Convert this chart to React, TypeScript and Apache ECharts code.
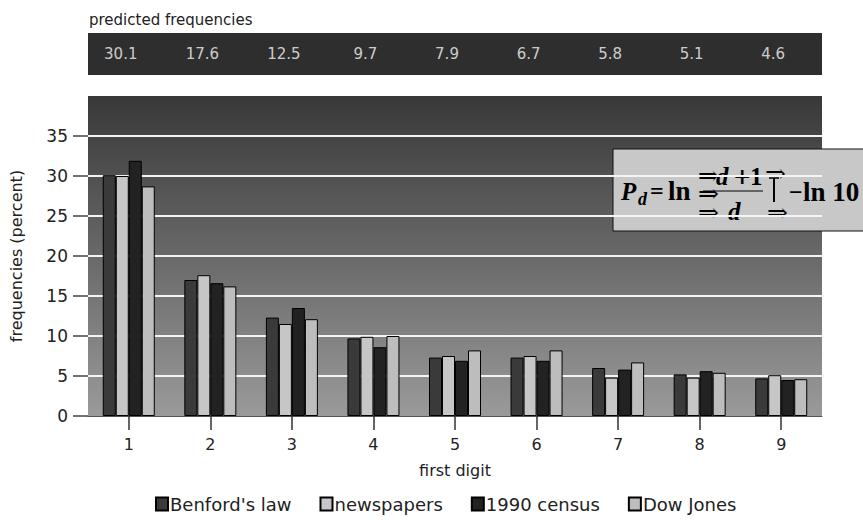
import React, { useEffect, useRef } from "react";
import * as echarts from "echarts";

const digits = ["1", "2", "3", "4", "5", "6", "7", "8", "9"];
const predicted = ["30.1", "17.6", "12.5", "9.7", "7.9", "6.7", "5.8", "5.1", "4.6"];
const benford = [30.1, 17.0, 12.3, 9.7, 7.3, 7.3, 6.0, 5.2, 4.7];
const newspapers = [30.0, 17.6, 11.5, 9.9, 7.5, 7.5, 4.8, 4.8, 5.1];
const census = [31.9, 16.6, 13.5, 8.6, 6.9, 6.9, 5.8, 5.6, 4.5];
const dowJones = [28.7, 16.2, 12.1, 10.0, 8.2, 8.2, 6.7, 5.4, 4.6];
const yTicks = [0, 5, 10, 15, 20, 25, 30, 35];

const SANS = '"DejaVu Sans", sans-serif';
const SERIF = '"Liberation Serif", "DejaVu Serif", serif';

export default function App() {
  const ref = useRef<HTMLDivElement>(null);
  useEffect(() => {
    if (!ref.current) return;
    const chart = echarts.init(ref.current, undefined, { renderer: "svg" });
    const barSeries = (name: string, data: number[], color: string) => ({
      name,
      type: "bar",
      xAxisIndex: 0,
      yAxisIndex: 0,
      data,
      barWidth: 13,
      barGap: "0%",
      itemStyle: { color, borderColor: "#000", borderWidth: 1 },
    });
    const txt = (
      text: string,
      x: number,
      y: number,
      size: number,
      opts: { italic?: boolean; bold?: boolean; family?: string } = {}
    ) => ({
      type: "text",
      style: {
        text,
        x,
        y,
        fontSize: size,
        fontFamily: opts.family || SERIF,
        fontWeight: opts.bold === false ? "normal" : "bold",
        fontStyle: opts.italic ? "italic" : "normal",
        fill: "#000",
        verticalAlign: "middle",
      },
    });
    const arrow = (x: number, y: number) =>
      txt("⇒", x, y, 25, { bold: false, family: '"DejaVu Serif", "DejaVu Sans", serif' });
    chart.setOption({
      animation: false,
      backgroundColor: "#fff",
      textStyle: { fontFamily: SANS },
      title: {
        text: "predicted frequencies",
        left: 84,
        top: 7,
        textStyle: { fontFamily: SANS, fontSize: 15, fontWeight: "normal", color: "#222" },
      },
      grid: [
        {
          left: 88,
          right: 41,
          top: 96,
          bottom: 104,
          outerBoundsMode: "none",
          containLabel: false,
          show: true,
          borderWidth: 0,
          backgroundColor: new echarts.graphic.LinearGradient(0, 0, 0, 1, [
            { offset: 0, color: "#383838" },
            { offset: 1, color: "#9a9a9a" },
          ]),
        },
        {
          left: 88,
          right: 41,
          top: 33,
          height: 42,
          outerBoundsMode: "none",
          containLabel: false,
          show: true,
          borderWidth: 0,
          backgroundColor: "#2e2e2e",
        },
      ],
      xAxis: [
        {
          type: "category",
          gridIndex: 0,
          data: digits,
          name: "first digit",
          nameLocation: "middle",
          nameGap: 46,
          nameTextStyle: { fontFamily: SANS, fontSize: 16, color: "#222" },
          axisLine: { show: true, lineStyle: { color: "#555", width: 1 } },
          axisTick: { show: true, alignWithLabel: true, length: 14, lineStyle: { color: "#333", width: 1.5 } },
          axisLabel: { margin: 20, fontFamily: SANS, fontSize: 16, color: "#222" },
        },
        {
          type: "category",
          gridIndex: 1,
          data: digits,
          show: false,
        },
      ],
      yAxis: [
        {
          type: "value",
          gridIndex: 0,
          min: 0,
          max: 40,
          interval: 5,
          name: "frequencies (percent)",
          nameLocation: "middle",
          nameGap: 64,
          nameTextStyle: { fontFamily: SANS, fontSize: 16, color: "#222" },
          axisLine: { show: false },
          axisTick: { show: true, length: 15, customValues: yTicks, lineStyle: { color: "#444", width: 1.5 } },
          axisLabel: {
            margin: 20,
            fontFamily: SANS,
            fontSize: 17,
            color: "#222",
            customValues: yTicks,
          },
          splitLine: {
            show: true,
            lineStyle: {
              width: 2,
              color: [
                "rgba(0,0,0,0)",
                "#f4f4f4",
                "#f4f4f4",
                "#f4f4f4",
                "#f4f4f4",
                "#f4f4f4",
                "#f4f4f4",
                "#f4f4f4",
              ],
            },
          },
        },
        {
          type: "value",
          gridIndex: 1,
          min: 0,
          max: 1,
          show: false,
        },
      ],
      legend: {
        left: 150,
        top: 490,
        icon: "rect",
        itemWidth: 12,
        itemHeight: 13,
        itemGap: 28,
        textStyle: { fontFamily: SANS, fontSize: 18, color: "#222", padding: [0, 0, 0, -3] },
        data: ["Benford's law", "newspapers", "1990 census", "Dow Jones"],
      },
      series: [
        barSeries("Benford's law", benford, "#3a3a3a"),
        barSeries("newspapers", newspapers, "#c6c6c6"),
        barSeries("1990 census", census, "#222222"),
        barSeries("Dow Jones", dowJones, "#bdbdbd"),
        {
          type: "scatter",
          xAxisIndex: 1,
          yAxisIndex: 1,
          symbolSize: 0,
          silent: true,
          data: predicted.map((v, i) => [digits[i], 0.5, v]),
          label: {
            show: true,
            position: "inside",
            offset: [-8, 0],
            formatter: (p: any) => p.value[2],
            color: "#f7f7f7",
            fontFamily: SANS,
            fontSize: 15,
          },
        },
      ],
      graphic: [
        {
          type: "group",
          z: 100,
          children: [
            {
              type: "rect",
              shape: { x: 613, y: 149, width: 260, height: 82 },
              style: { fill: "#c8c8c8", stroke: "#111", lineWidth: 1 },
            },
            txt("P", 621, 191, 25, { italic: true }),
            txt("d", 638, 199, 18, { italic: true }),
            txt("=", 650, 191, 24),
            txt("ln", 668, 191, 27),
            arrow(698, 175),
            arrow(698, 193),
            arrow(698, 212),
            txt("d", 716, 176, 25, { italic: true }),
            txt("+", 733, 176, 22, { family: '"DejaVu Serif", serif' }),
            txt("1", 750, 176, 25),
            arrow(765, 173),
            txt("d", 728, 211, 25, { italic: true }),
            arrow(767, 212),
            { type: "line", shape: { x1: 703, y1: 191, x2: 763, y2: 191 }, style: { stroke: "#000", lineWidth: 1 } },
            { type: "line", shape: { x1: 774, y1: 178, x2: 774, y2: 202 }, style: { stroke: "#000", lineWidth: 2 } },
            { type: "line", shape: { x1: 769, y1: 178, x2: 779, y2: 178 }, style: { stroke: "#000", lineWidth: 1.5 } },
            txt("−", 789, 192, 24),
            txt("ln 10", 803, 192, 27),
          ],
        },
      ],
    });
    return () => chart.dispose();
  }, []);
  return (
    <div
      ref={ref}
      style={{ position: "fixed", left: 0, top: 0, width: 863, height: 520 }}
    />
  );
}
